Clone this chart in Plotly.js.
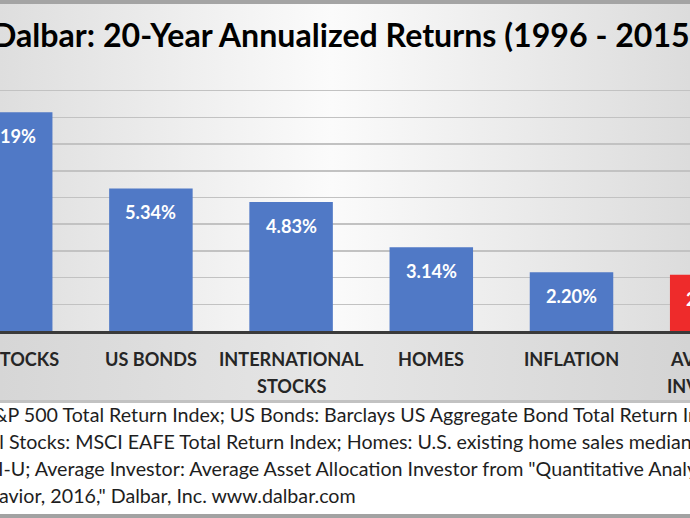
<!DOCTYPE html>
<html><head><meta charset="utf-8">
<script src="https://cdn.plot.ly/plotly-3.0.1.min.js"></script>
<style>html,body{margin:0;padding:0;background:#fff;overflow:hidden;width:690px;height:518px;position:relative}
#chart{position:absolute;top:0;left:-80px;width:850px;height:518px}</style>
</head><body><div id="chart"></div>
<script>
// ---- data ----
const categories = ["US STOCKS", "US BONDS", "INTERNATIONAL<br>STOCKS", "HOMES", "INFLATION", "AVERAGE<br>INVESTOR"];
const returns = [8.19, 5.34, 4.83, 3.14, 2.20, 2.11];
const titleText = "Dalbar: 20-Year Annualized Returns (1996 - 2015)";
const footnoteLines = [
  "Sources: US Stocks: S&P 500 Total Return Index; US Bonds: Barclays US Aggregate Bond Total Return Index;",
  "International Stocks: MSCI EAFE Total Return Index; Homes: U.S. existing home sales median price; Inflation:",
  "CPI-U; Average Investor: Average Asset Allocation Investor from \"Quantitative Analysis of Investor",
  "Behavior, 2016,\" Dalbar, Inc. www.dalbar.com"
];

// ---- layout helpers (the reference is a cropped picture: the chart is drawn wider and the window crops it) ----
const OFFX = 80;                 // chart extends this far beyond each side of the window
const W = 690 + 2 * OFFX, H = 518, TOP = 64, ZERO = 331;
const FAM = "Lato";
const ANN_PAD = 6;               // visual offset of left-anchored annotation text
const ctx = document.createElement('canvas').getContext('2d');
function textW(t, weight, size) { ctx.font = weight + " " + size + "px " + FAM; return ctx.measureText(t).width; }
function fit(t, weight, target) { return 100 * target / textW(t, weight, 100); }
function xp(pagePx) { return (pagePx + OFFX) / W; }
function yp(py) { return (ZERO - py) / (ZERO - TOP); }
function esc(s) { return s.replace(/&/g, "&amp;"); }

const titleSize = fit("Dalbar: 20-Year Annualized Returns (1996 - 2015", "bold", 700);
const catSize = fit("US BONDS", "bold", 92);
const valSize = fit("5.34%", "bold", 51);
const noteSize = fit("&P 500 Total Return Index; US Bonds: Barclays US Aggregate Bond Total Return ", "normal", 692);

// cropped-off prefixes of each footnote line and where the visible part starts in the window
const notePrefix = ["Sources: US Stocks: S", "Internationa", "CP", "Beh"];
const noteStart = [-2, 3, 2, 3];
const noteY = [415, 441, 468, 495];

const highlight = "AVERAGE<br>INVESTOR";
const barColors = categories.map(c => c === highlight ? "#ee2b2b" : "#5079c6");

const annotations = [];
annotations.push({
  text: titleText, xref: "paper", yref: "paper", x: xp(-4 - ANN_PAD), y: yp(35),
  xanchor: "left", yanchor: "middle", showarrow: false,
  font: {family: FAM, size: titleSize, color: "#000000", weight: "bold"}
});
categories.forEach((c, i) => {
  c.split("<br>").forEach((line, k) => {
    annotations.push({
      text: line, xref: "x", yref: "y", x: c, y: 0, yshift: -28 - 27 * k,
      xanchor: "center", yanchor: "middle", showarrow: false,
      font: {family: FAM, size: catSize, color: "#262626", weight: "bold"}
    });
  });
  annotations.push({
    text: returns[i].toFixed(2) + "%", xref: "x", yref: "y", x: c, y: returns[i], yshift: -24,
    xanchor: "center", yanchor: "middle", showarrow: false,
    font: {family: FAM, size: valSize, color: "#ffffff", weight: "bold"}
  });
});
footnoteLines.forEach((line, i) => {
  const left = noteStart[i] - ANN_PAD - textW(notePrefix[i], "normal", noteSize);
  annotations.push({
    text: esc(line), xref: "paper", yref: "paper", x: xp(left), y: yp(noteY[i]),
    xanchor: "left", yanchor: "middle", showarrow: false, align: "left",
    font: {family: FAM, size: noteSize, color: "#1e1e1e"}
  });
});

const bgSvg =
 "<svg xmlns='http://www.w3.org/2000/svg' width='850' height='518' viewBox='-80 0 850 518' preserveAspectRatio='none'>" +
 "<defs>" +
 "<linearGradient id='g' gradientUnits='userSpaceOnUse' x1='0' x2='690' y1='0' y2='0'><stop offset='0' stop-color='#dedede'/><stop offset='0.48' stop-color='#fbfbfb'/><stop offset='1' stop-color='#dcdcdc'/></linearGradient>" +
 "<linearGradient id='b' gradientUnits='userSpaceOnUse' x1='0' x2='690' y1='0' y2='0'><stop offset='0' stop-color='#d6d6d6'/><stop offset='0.48' stop-color='#e6e6e6'/><stop offset='1' stop-color='#d4d4d4'/></linearGradient>" +
 "</defs>" +
 "<rect x='-80' width='850' height='518' fill='url(#g)'/>" +
 "<rect x='-80' y='0' width='850' height='4' fill='#a4a4a4'/>" +
 "<rect x='-80' y='331' width='850' height='70' fill='url(#b)'/>" +
 "<rect x='-80' y='400' width='850' height='3' fill='#c2c2c2'/>" +
 "<rect x='-80' y='403' width='850' height='111' fill='#ffffff'/>" +
 "<rect x='-80' y='514' width='850' height='4' fill='#a2a2a2'/>" +
 "</svg>";

const pxPerCat = 140.2, firstCenter = 10.7 + OFFX;
const r0 = -firstCenter / pxPerCat;

const trace = {
  type: "bar", x: categories, y: returns, width: 83.5 / pxPerCat,
  marker: {color: barColors, line: {width: 0}}, hoverinfo: "skip"
};

const layout = {
  width: W, height: H,
  margin: {l: 0, r: 0, t: TOP, b: H - ZERO, pad: 0},
  paper_bgcolor: "#ffffff", plot_bgcolor: "rgba(0,0,0,0)",
  showlegend: false,
  xaxis: {type: "category", range: [r0, r0 + W / pxPerCat], showticklabels: false, showgrid: false,
          zeroline: false, ticks: "", showline: true, linecolor: "#3a3a3a", linewidth: 2.5, fixedrange: true},
  yaxis: {range: [0, 10], dtick: 1, showticklabels: false, showgrid: true, gridcolor: "#c2c2c2", gridwidth: 1.5,
          zeroline: false, ticks: "", showline: false, fixedrange: true},
  images: [{source: "data:image/svg+xml;charset=utf-8," + encodeURIComponent(bgSvg),
            xref: "paper", yref: "paper", x: 0, y: yp(0), sizex: 1, sizey: H / (ZERO - TOP),
            xanchor: "left", yanchor: "top", sizing: "stretch", layer: "below"}],
  annotations: annotations
};

Plotly.newPlot("chart", [trace], layout, {displayModeBar: false, staticPlot: true});
</script>
</body></html>
